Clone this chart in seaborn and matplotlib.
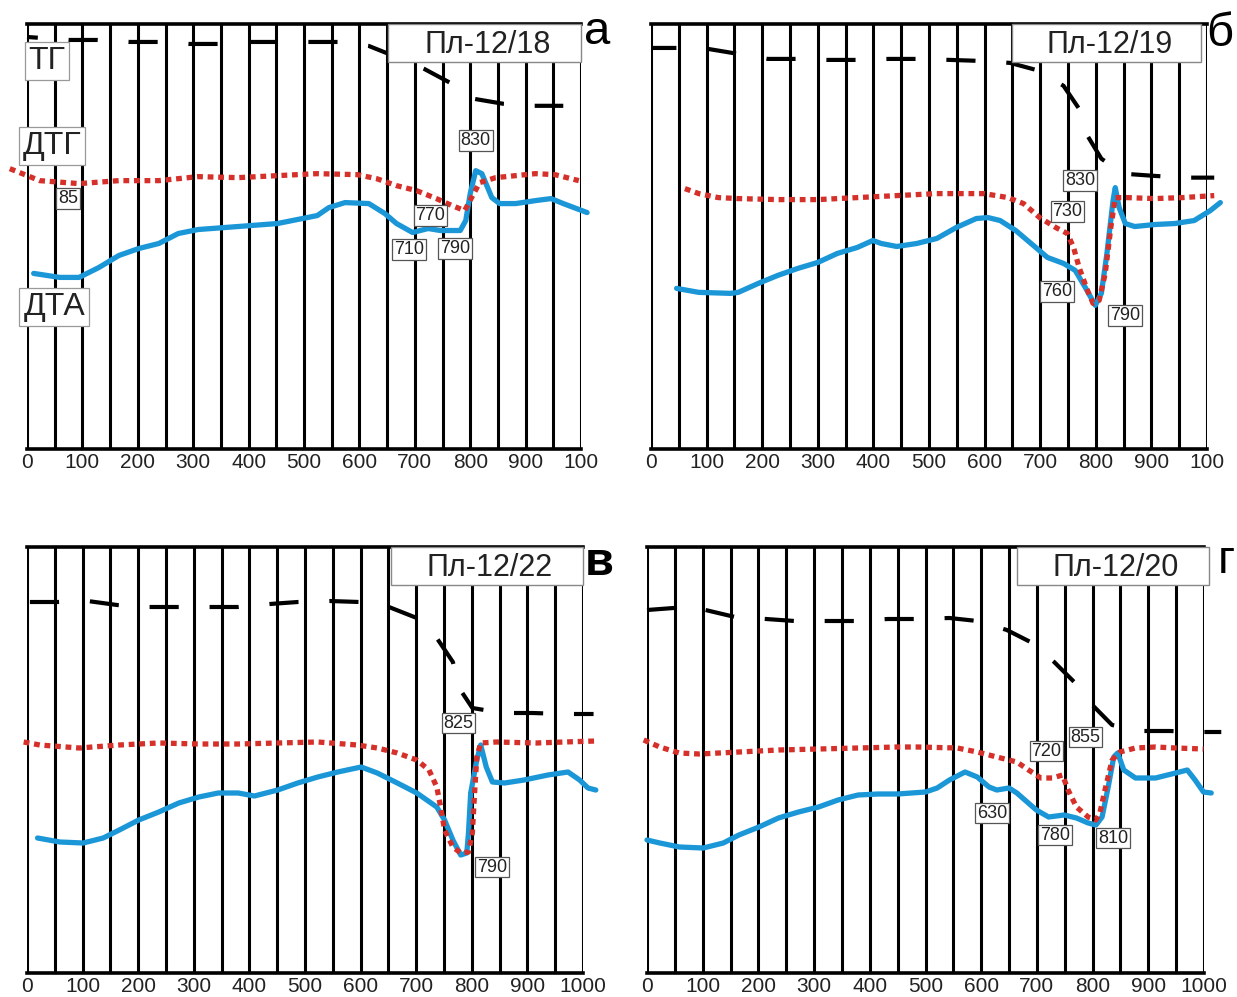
import matplotlib
matplotlib.use("Agg")
import matplotlib.pyplot as plt
import seaborn as sns
import pandas as pd
from matplotlib.patches import Rectangle

sns.set_style("white")
plt.rcParams['font.family'] = ['Liberation Sans', 'DejaVu Sans']

# ---------------- data (temperature °C, relative signal) ----------------
# Panel а : Пл-12/18
a_tg_t = [0, 77, 127, 186, 238, 293, 349, 402, 456, 512, 563, 617, 653, 717, 764, 807, 860, 916, 968]
a_tg_v = [413, 410, 410, 408, 408, 406, 406, 408, 408, 408, 408, 404, 396, 381, 367, 351, 346, 344, 344]
a_dtg_t = [-31, 23, 94, 166, 238, 309, 381, 452, 524, 596, 631, 667, 703, 739, 767, 790, 817, 846, 882, 918, 953, 996]
a_dtg_v = [281, 269, 266, 269, 269, 273, 272, 274, 276, 275, 271, 264, 259, 251, 244, 239, 267, 272, 274, 276, 275, 269]
a_dta_t = [12, 59, 94, 130, 166, 202, 238, 273, 309, 381, 452, 524, 545, 574, 617, 646, 667, 696, 724, 746, 782, 792, 800, 810, 821, 839, 853, 882, 918, 946, 968, 1011]
a_dta_v = [176, 172, 172, 182, 194, 201, 206, 216, 220, 223, 226, 234, 242, 247, 246, 236, 226, 217, 221, 219, 219, 229, 256, 279, 276, 252, 246, 246, 249, 251, 246, 237]
a_lbl = ["85", "830", "770", "710", "790"]
a_lbl_t = [74, 810, 728, 690, 773]
a_lbl_v = [251, 309, 234, 200, 201]

# Panel б : Пл-12/19
b_tg_t = [0, 50, 103, 157, 210, 264, 317, 371, 428, 481, 538, 592, 646, 699, 742, 770, 785, 810, 849, 899, 956, 1013]
b_tg_v = [402, 402, 401, 396, 391, 391, 390, 390, 391, 391, 390, 389, 387, 379, 364, 341, 314, 291, 276, 274, 272, 272]
b_dtg_t = [61, 86, 121, 157, 228, 300, 371, 442, 514, 549, 599, 642, 670, 699, 728, 749, 760, 770, 785, 795, 806, 817, 827, 835, 856, 906, 956, 1013]
b_dtg_v = [261, 256, 252, 251, 250, 250, 252, 254, 256, 256, 256, 252, 246, 232, 222, 216, 202, 182, 159, 146, 149, 176, 222, 252, 252, 251, 252, 254]
b_dta_t = [46, 86, 143, 157, 193, 228, 264, 300, 335, 371, 399, 414, 442, 478, 514, 549, 585, 606, 628, 656, 692, 713, 742, 763, 781, 799, 810, 820, 831, 835, 842, 853, 870, 906, 942, 977, 1006, 1024]
b_dta_v = [161, 157, 156, 157, 166, 174, 181, 187, 196, 202, 209, 206, 203, 206, 211, 222, 231, 232, 229, 219, 202, 192, 186, 179, 162, 144, 156, 196, 249, 262, 242, 226, 223, 225, 226, 229, 239, 247]
b_lbl = ["830", "730", "760", "790"]
b_lbl_t = [772, 749, 730, 852]
b_lbl_v = [269, 238, 158, 134]

# Panel в : Пл-12/22
c_tg_t = [0, 55, 109, 162, 219, 269, 326, 380, 437, 487, 544, 598, 651, 701, 737, 766, 776, 801, 855, 909, 966, 1019]
c_tg_v = [371, 371, 372, 368, 366, 366, 366, 366, 369, 371, 372, 371, 366, 355, 335, 311, 286, 265, 260, 260, 259, 259]
c_dtg_t = [-6, 23, 94, 166, 237, 309, 380, 451, 523, 594, 630, 666, 701, 723, 737, 744, 751, 766, 780, 794, 801, 805, 809, 816, 844, 916, 966, 1023]
c_dtg_v = [231, 228, 225, 228, 230, 229, 229, 230, 231, 228, 225, 220, 213, 203, 186, 166, 143, 126, 120, 121, 140, 180, 216, 230, 231, 230, 231, 232]
c_dta_t = [19, 59, 101, 137, 166, 201, 237, 273, 309, 344, 380, 409, 451, 487, 523, 559, 601, 630, 666, 701, 737, 751, 766, 780, 791, 794, 798, 809, 816, 826, 837, 859, 894, 937, 973, 994, 1009, 1023]
c_dta_v = [135, 131, 130, 135, 143, 153, 161, 170, 176, 180, 180, 177, 183, 190, 196, 201, 206, 200, 190, 180, 166, 153, 133, 118, 120, 140, 180, 213, 228, 206, 191, 190, 193, 198, 201, 193, 185, 183]
c_lbl = ["825", "790"]
c_lbl_t = [776, 836]
c_lbl_v = [250, 106]

# Panel г : Пл-12/20
d_tg_t = [0, 48, 105, 158, 214, 265, 322, 375, 432, 482, 543, 593, 646, 692, 731, 767, 796, 835, 885, 938, 995, 1031]
d_tg_v = [363, 365, 363, 356, 354, 352, 352, 352, 354, 354, 355, 352, 343, 330, 311, 291, 270, 248, 242, 242, 241, 241]
d_dtg_t = [-6, 23, 58, 94, 165, 236, 308, 379, 450, 486, 557, 593, 628, 664, 685, 707, 728, 746, 756, 771, 792, 806, 813, 821, 835, 849, 877, 913, 949, 999]
d_dtg_v = [233, 226, 220, 219, 221, 223, 224, 225, 226, 226, 225, 221, 216, 211, 203, 195, 195, 198, 183, 166, 156, 153, 160, 180, 213, 221, 225, 226, 225, 224]
d_dta_t = [0, 23, 58, 101, 137, 165, 201, 236, 272, 308, 343, 379, 415, 450, 500, 521, 543, 571, 593, 614, 628, 650, 664, 699, 721, 749, 771, 792, 806, 817, 828, 838, 845, 856, 877, 913, 949, 970, 984, 999, 1013]
d_dta_v = [133, 130, 126, 125, 130, 138, 146, 155, 161, 166, 173, 178, 179, 179, 181, 185, 193, 201, 196, 186, 183, 185, 180, 163, 156, 158, 155, 150, 148, 156, 186, 216, 220, 203, 195, 195, 200, 203, 193, 181, 180]
d_lbl = ["855", "720", "630", "780", "810"]
d_lbl_t = [787, 717, 619, 733, 837]
d_lbl_v = [236, 222, 160, 138, 135]

samples = ["Пл-12/18", "Пл-12/19", "Пл-12/22", "Пл-12/20"]
letters = ["а", "б", "в", "г"]
top_ticklabels = ["0", "100", "200", "300", "400", "500", "600", "700", "800", "900", "100"]
bottom_ticklabels = ["0", "100", "200", "300", "400", "500", "600", "700", "800", "900", "1000"]
curve_names = ["ТГ", "ДТГ", "ДТА"]

# ---------------- styling ----------------
RED = "#d5302a"
BLUE = "#1b97d8"

fig = plt.figure(figsize=(12.37, 9.97), dpi=100)
W, H = 1237.0, 997.0
# (left_px, right_px, top_px, bottom_px)
boxes = [(27, 581, 24, 449), (651, 1207, 24, 449), (27, 583, 547, 973), (647, 1204, 547, 973)]

panels = [
    (a_tg_t, a_tg_v, a_dtg_t, a_dtg_v, a_dta_t, a_dta_v, a_lbl, a_lbl_t, a_lbl_v, 4.4),
    (b_tg_t, b_tg_v, b_dtg_t, b_dtg_v, b_dta_t, b_dta_v, b_lbl, b_lbl_t, b_lbl_v, 0.9),
    (c_tg_t, c_tg_v, c_dtg_t, c_dtg_v, c_dta_t, c_dta_v, c_lbl, c_lbl_t, c_lbl_v, 13.7),
    (d_tg_t, d_tg_v, d_dtg_t, d_dtg_v, d_dta_t, d_dta_v, d_lbl, d_lbl_t, d_lbl_v, 0.3),
]
title_x0 = [652, 650, 655, 664]
title_x1 = [1000, 990, 1000, 1009]
letter_pos = [(1030, 406), (1023, 404), (1030, 398), (1040, 400)]

for i, (l, r, t, b) in enumerate(boxes):
    ax = fig.add_axes([l / W, 1 - b / H, (r - l) / W, (b - t) / H])
    ax.set_xlim(0, 1000)
    ax.set_ylim(0, 426)
    tg_t, tg_v, dtg_t, dtg_v, dta_t, dta_v, lbl, lbl_t, lbl_v, off = panels[i]

    for v in range(0, 1001, 50):
        ax.axvline(v, color="black", lw=2.2, zorder=1)

    df_tg = pd.DataFrame({"T": tg_t, "v": tg_v})
    df_dtg = pd.DataFrame({"T": dtg_t, "v": dtg_v})
    df_dta = pd.DataFrame({"T": dta_t, "v": dta_v})

    sns.lineplot(data=df_dta, x="T", y="v", ax=ax, color=BLUE, lw=3.8,
                 estimator=None, sort=False, clip_on=False, zorder=4,
                 solid_joinstyle="round", solid_capstyle="round")
    sns.lineplot(data=df_tg, x="T", y="v", ax=ax, color="black", lw=3.0,
                 estimator=None, sort=False, clip_on=False, zorder=4,
                 linestyle=(off, (7.0, 7.4)), dash_capstyle="butt")
    sns.lineplot(data=df_dtg, x="T", y="v", ax=ax, color=RED, lw=3.8,
                 estimator=None, sort=False, clip_on=False, zorder=5,
                 linestyle=(0, (1.1, 0.9)), dash_capstyle="butt")

    for s, x, y in zip(lbl, lbl_t, lbl_v):
        ax.text(x, y, s, fontsize=13, ha="center", va="center", zorder=7, color="#222222",
                bbox=dict(boxstyle="square,pad=0.1", fc="white", ec="#555555", lw=0.9))

    # sample title box
    ax.add_patch(Rectangle((title_x0[i], 388), title_x1[i] - title_x0[i], 38,
                           fc="white", ec="#888888", lw=1.0, zorder=6, clip_on=False))
    ax.text((title_x0[i] + title_x1[i]) / 2 + 5, 405, samples[i], fontsize=22,
            ha="center", va="center", zorder=7, color="#222222")
    lx, ly = letter_pos[i]
    ax.text(lx, ly, letters[i], fontsize=34, ha="center", va="baseline",
            color="black", zorder=7, clip_on=False,
            fontweight="bold" if i == 2 else "normal")

    if i == 0:
        name_pos = [(36, 389), (45, 304), (49, 142)]
        for s, (x, y) in zip(curve_names, name_pos):
            ax.text(x, y, s, fontsize=23, ha="center", va="center", zorder=7,
                    color="#222222",
                    bbox=dict(boxstyle="square,pad=0.12", fc="white", ec="#999999", lw=0.9))

    for side in ["left", "right"]:
        ax.spines[side].set_visible(False)
    for side in ["top", "bottom"]:
        ax.spines[side].set_visible(True)
        ax.spines[side].set_color("black")
        ax.spines[side].set_linewidth(2.6)
    ax.set_yticks([])
    ax.set_xticks(range(0, 1001, 100))
    if i < 2:
        ax.set_xticklabels(top_ticklabels, fontsize=15, color="#222222")
    else:
        ax.set_xticklabels(bottom_ticklabels, fontsize=15, color="#222222")
    ax.tick_params(axis="x", length=0, pad=3)
    ax.set_xlabel("")
    ax.set_ylabel("")
    ax.set_facecolor("white")

fig.savefig("out.png", dpi=100, facecolor="white")
